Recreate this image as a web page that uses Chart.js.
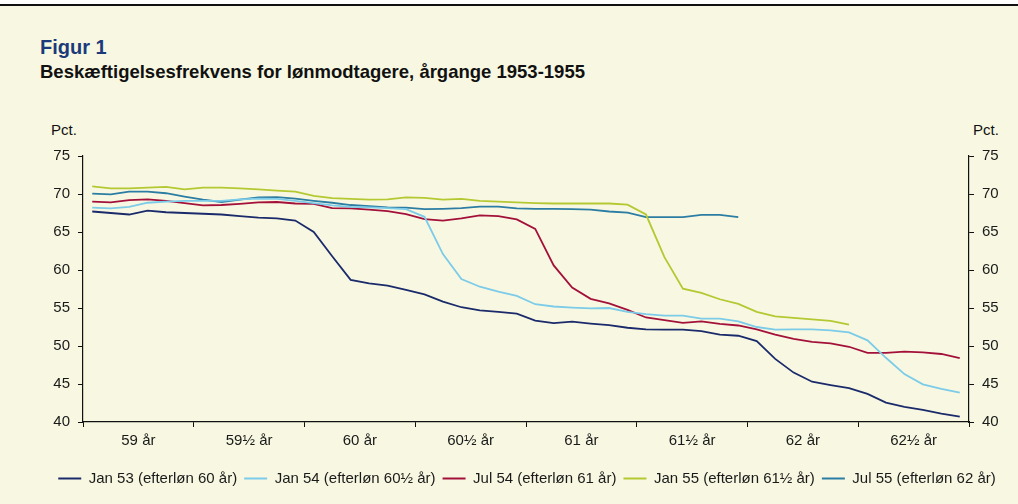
<!DOCTYPE html>
<html lang="da">
<head>
<meta charset="utf-8">
<script src="https://cdn.jsdelivr.net/npm/chart.js@4.4.1/dist/chart.umd.min.js"></script>
<style>
  html, body { margin: 0; padding: 0; background: #ffffff; }
  body { width: 1018px; height: 504px; position: relative; overflow: hidden; font-family: "Liberation Sans", Arial, sans-serif; }
  #panel { position: absolute; left: 0; top: 6px; width: 1018px; height: 498px; background: #F8F8E2; }
  #topline { position: absolute; left: 0; top: 4px; width: 1018px; height: 2px; background: #111; }
  .t { position: absolute; white-space: nowrap; color: #111; }
  #fig { left: 40px; top: 37px; font-size: 20px; line-height: 20px; font-weight: bold; color: #1B3A7A; }
  #sub { left: 40px; top: 63px; font-size: 18.5px; line-height: 18.5px; font-weight: bold; }
  #pl { left: 51px; top: 122px; font-size: 15px; line-height: 15px; }
  #pr { left: 973px; top: 122px; font-size: 15px; line-height: 15px; }
  #c { position: absolute; left: 0; top: 0; }
</style>
</head>
<body>
<div id="panel"></div>
<div id="topline"></div>
<div class="t" id="fig">Figur 1</div>
<div class="t" id="sub">Beskæftigelsesfrekvens for lønmodtagere, årgange 1953-1955</div>
<div class="t" id="pl">Pct.</div>
<div class="t" id="pr">Pct.</div>
<canvas id="c" width="1018" height="504"></canvas>
<script>
// Half-year age bands (x-axis tick labels)
const ageLabels = ['59 år', '59½ år', '60 år', '60½ år', '61 år', '61½ år', '62 år', '62½ år'];
// Monthly positions: 6 months per half year
const monthsPerBand = 6;
const monthLabels = [];
ageLabels.forEach(a => { for (let m = 1; m <= monthsPerBand; m++) monthLabels.push(a + ' m' + m); });

const seriesNames = [
  'Jan 53 (efterløn 60 år)',
  'Jan 54 (efterløn 60½ år)',
  'Jul 54 (efterløn 61 år)',
  'Jan 55 (efterløn 61½ år)',
  'Jul 55 (efterløn 62 år)'
];

const jan53 = [67.7, 67.5, 67.3, 67.8, 67.6, 67.5, 67.4, 67.3, 67.1, 66.9, 66.8, 66.5,
               65.0, 61.8, 58.7, 58.25, 57.95, 57.4, 56.8, 55.85, 55.1, 54.7, 54.5, 54.25,
               53.35, 53.0, 53.2, 52.95, 52.75, 52.4, 52.2, 52.15, 52.15, 51.95, 51.5, 51.35,
               50.65, 48.3, 46.5, 45.3, 44.85, 44.45, 43.7, 42.55, 42.0, 41.6, 41.1, 40.7];
const jan54 = [68.2, 68.1, 68.3, 68.85, 69.0, 69.1, 69.1, 69.1, 69.3, 69.4, 69.35, 69.1,
               68.8, 68.5, 68.3, 68.25, 68.15, 68.0, 67.0, 62.1, 58.8, 57.8, 57.15, 56.6,
               55.5, 55.2, 55.05, 54.95, 55.0, 54.5, 54.2, 54.0, 54.0, 53.6, 53.6, 53.25,
               52.5, 52.15, 52.2, 52.2, 52.05, 51.8, 50.75, 48.45, 46.3, 44.95, 44.35, 43.85];
const jul54 = [69.0, 68.9, 69.2, 69.3, 69.1, 68.8, 68.5, 68.55, 68.7, 68.9, 68.95, 68.75,
               68.7, 68.15, 68.1, 67.95, 67.75, 67.35, 66.7, 66.5, 66.8, 67.2, 67.1, 66.65,
               65.4, 60.6, 57.7, 56.2, 55.6, 54.75, 53.75, 53.4, 53.05, 53.25, 52.9, 52.7,
               52.2, 51.5, 50.95, 50.55, 50.35, 49.9, 49.1, 49.1, 49.25, 49.15, 48.95, 48.4];
const jan55 = [71.0, 70.75, 70.75, 70.85, 70.95, 70.6, 70.85, 70.85, 70.75, 70.6, 70.45, 70.3,
               69.75, 69.45, 69.35, 69.25, 69.3, 69.55, 69.5, 69.25, 69.35, 69.1, 69.0, 68.9,
               68.8, 68.75, 68.75, 68.75, 68.75, 68.6, 67.3, 61.7, 57.55, 57.0, 56.15, 55.55,
               54.5, 53.9, 53.7, 53.5, 53.3, 52.8];
const jul55 = [70.05, 69.95, 70.3, 70.3, 70.1, 69.65, 69.25, 68.95, 69.25, 69.55, 69.6, 69.4,
               69.1, 68.85, 68.55, 68.4, 68.25, 68.2, 68.0, 68.05, 68.15, 68.35, 68.35, 68.1,
               68.05, 68.05, 68.0, 67.95, 67.7, 67.55, 66.95, 66.95, 66.95, 67.25, 67.25, 66.95];

const seriesValues = [jan53, jan54, jul54, jan55, jul55];
const seriesColors = ['#1B2A6B', '#7CCBE8', '#A3113A', '#B4C832', '#2C7DA3'];

const yMin = 40, yMax = 75, yStep = 5;

const FONT = { family: '"Liberation Sans", Arial, sans-serif', size: 15 };
const TXT = '#1a1a1a';
const AX = '#111111';

const datasets = seriesValues.map((vals, i) => ({
  label: seriesNames[i],
  data: vals,
  borderColor: seriesColors[i],
  backgroundColor: seriesColors[i],
  borderWidth: 1.8,
  pointRadius: 0,
  pointHoverRadius: 0,
  tension: 0,
  fill: false,
  xAxisID: 'x',
  yAxisID: 'y'
}));

const yAxisCommon = {
  min: yMin, max: yMax,
  ticks: { stepSize: yStep, padding: 8, font: FONT, color: TXT },
  grid: { drawOnChartArea: false, tickLength: 5, color: AX, lineWidth: 1 },
  border: { color: AX, width: 1.2 }
};

new Chart(document.getElementById('c'), {
  type: 'line',
  data: { labels: monthLabels, datasets },
  options: {
    responsive: false,
    animation: false,
    events: [],
    layout: { padding: { left: 36, right: 0, top: 156, bottom: 8 } },
    plugins: {
      tooltip: { enabled: false },
      legend: {
        position: 'bottom',
        align: 'center',
        labels: {
          boxWidth: 23, boxHeight: 2, padding: 7, font: FONT, color: TXT,
          generateLabels: (chart) => chart.data.datasets.map((ds, i) => ({
            text: ds.label, fillStyle: ds.borderColor, strokeStyle: ds.borderColor,
            lineWidth: 0, hidden: false, datasetIndex: i, fontColor: TXT
          }))
        }
      }
    },
    scales: {
      x: { type: 'category', offset: true, display: false },
      x2: {
        type: 'category', labels: ageLabels, position: 'bottom', offset: true,
        grid: { offset: true, drawOnChartArea: false, tickLength: 5, color: AX, lineWidth: 1 },
        border: { color: AX, width: 1.2 },
        ticks: { font: FONT, color: TXT, padding: 5, maxRotation: 0, autoSkip: false },
        afterFit: (s) => { s.height = 42; }
      },
      y: Object.assign({ position: 'left', afterFit: (s) => { s.width = 47; } }, yAxisCommon),
      y2: Object.assign({ position: 'right', afterFit: (s) => { s.width = 49; } }, JSON.parse(JSON.stringify(yAxisCommon)))
    }
  }
});
</script>
</body>
</html>
